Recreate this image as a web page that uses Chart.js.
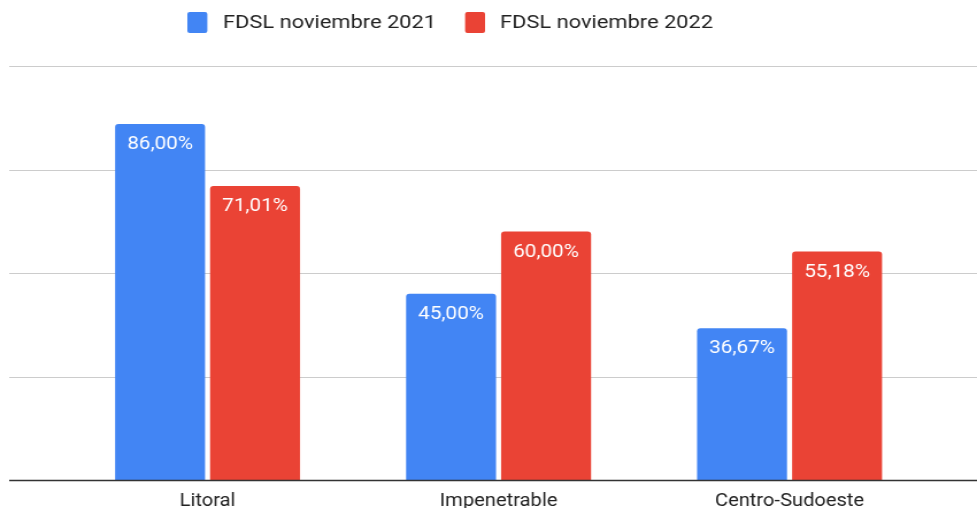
<!DOCTYPE html>
<html>
<head>
<meta charset="utf-8">
<script src="https://cdn.jsdelivr.net/npm/chart.js@4/dist/chart.umd.min.js"></script>
<style>
  html,body{margin:0;padding:0;background:#fff;overflow:hidden;}
  /* the reference is a slightly widened screenshot: draw at 850px and stretch to 977px */
  #wrap{width:850px;height:508px;position:relative;transform:scaleX(1.14941);transform-origin:0 0;}
</style>
</head>
<body>
<div id="wrap"><canvas id="c"></canvas></div>
<script>
const categories = ['Litoral', 'Impenetrable', 'Centro-Sudoeste'];
const seriesNames = ['FDSL noviembre 2021', 'FDSL noviembre 2022'];
const values2021 = [86.00, 45.00, 36.67];
const values2022 = [71.01, 60.00, 55.18];
const yTicks = [0, 25, 50, 75, 100];

const BLUE = '#4285F4', RED = '#EA4335';
const FONT = 'Roboto, Arial, sans-serif';
const fmtPct = v => v.toFixed(2).replace('.', ',') + '%';

// gridlines across the full width, baseline on top of the bars
function hLine(ctx, py, color, w){
  ctx.beginPath();
  ctx.strokeStyle = color; ctx.lineWidth = w;
  ctx.moveTo(8, py); ctx.lineTo(850, py);
  ctx.stroke();
}
const fullGrid = {
  id: 'fullGrid',
  beforeDatasetsDraw(chart){
    const {ctx, scales:{y}} = chart;
    ctx.save();
    yTicks.slice(1).forEach(t => hLine(ctx, Math.round(y.getPixelForValue(t)) + 0.5, '#ccc', 1));
    ctx.restore();
  },
  afterDatasetsDraw(chart){
    const {ctx, scales:{y}} = chart;
    ctx.save();
    hLine(ctx, Math.round(y.getPixelForValue(0)) + 0.5, '#333', 1.6);
    ctx.restore();
  }
};

// value labels inside the top of each bar
const barLabels = {
  id: 'barLabels',
  afterDatasetsDraw(chart){
    const {ctx} = chart;
    ctx.save();
    ctx.font = '18px ' + FONT;
    ctx.fillStyle = '#fff';
    ctx.textAlign = 'center';
    ctx.textBaseline = 'middle';
    chart.data.datasets.forEach((ds, i) => {
      chart.getDatasetMeta(i).data.forEach((bar, j) => {
        ctx.fillText(fmtPct(ds.data[j]), bar.x, bar.y + 20.5);
      });
    });
    ctx.restore();
  }
};

// legend row at the top
const topLegend = {
  id: 'topLegend',
  afterDraw(chart){
    const {ctx} = chart;
    const boxX = [163, 404.6], textX = [194, 435];
    ctx.save();
    ctx.font = '19px ' + FONT;
    ctx.textBaseline = 'middle';
    ctx.textAlign = 'left';
    chart.data.datasets.forEach((ds, i) => {
      ctx.fillStyle = ds.backgroundColor;
      ctx.beginPath();
      ctx.roundRect(boxX[i], 12, 17.4, 21, 2);
      ctx.fill();
      ctx.fillStyle = '#222';
      ctx.fillText(ds.label, textX[i], 23);
    });
    ctx.restore();
  }
};

new Chart(document.getElementById('c'), {
  type: 'bar',
  data: {
    labels: categories,
    datasets: [
      {label: seriesNames[0], data: values2021, backgroundColor: BLUE,
       borderRadius: {topLeft: 3, topRight: 3}, borderSkipped: 'bottom'},
      {label: seriesNames[1], data: values2022, backgroundColor: RED,
       borderRadius: {topLeft: 3, topRight: 3}, borderSkipped: 'bottom'}
    ]
  },
  options: {
    responsive: true, maintainAspectRatio: false, animation: false,
    barPercentage: 0.947, categoryPercentage: 0.653,
    layout: {padding: {left: 54, right: 36.5, top: 66, bottom: 0}},
    plugins: {
      legend: {display: false},
      tooltip: {enabled: false}
    },
    scales: {
      x: {
        grid: {display: false, drawTicks: false}, border: {display: false},
        ticks: {font: {family: FONT, size: 17.5}, color: '#222', padding: 11},
        afterFit(scale){ scale.height = 28; }
      },
      y: {
        display: false, min: 0, max: 100,
        ticks: {stepSize: 25}
      }
    }
  },
  plugins: [fullGrid, barLabels, topLegend]
});
</script>
</body>
</html>
